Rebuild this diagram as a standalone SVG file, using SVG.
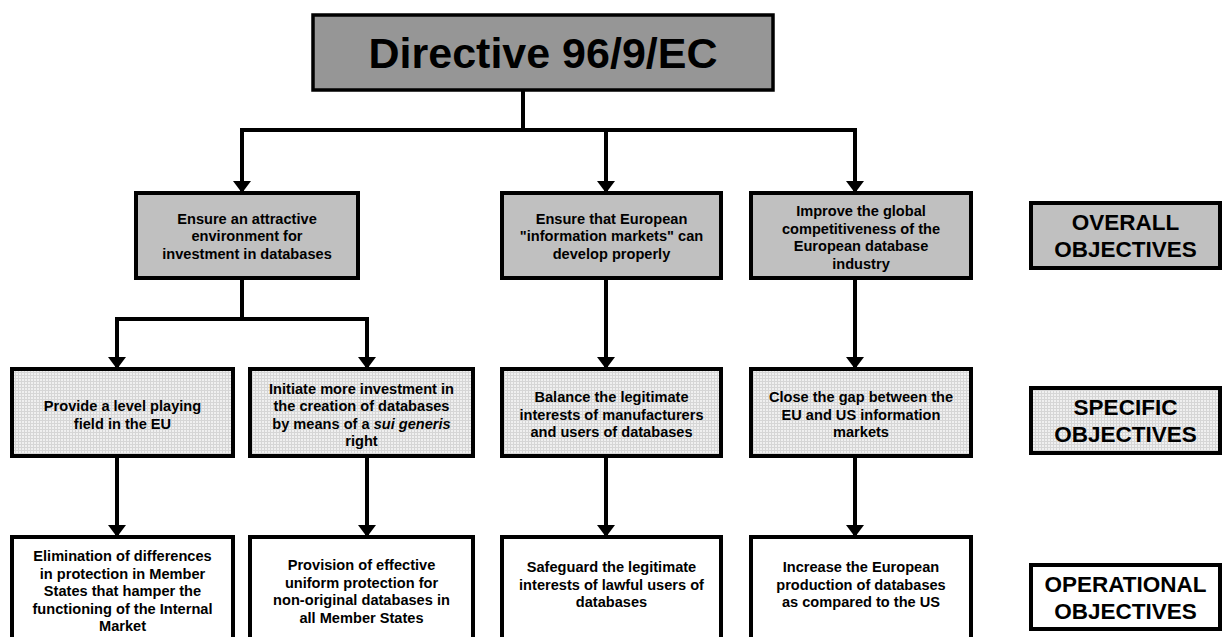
<svg xmlns="http://www.w3.org/2000/svg" width="1222" height="637" viewBox="0 0 1222 637">
<style>
.box{stroke:#000;stroke-width:4}
.top{fill:#969696;stroke:#000;stroke-width:3.5}
.ov{fill:#c0c0c0}
.sp{fill:url(#grid)}
.op{fill:#fff}
.t{font-family:"Liberation Sans",Arial,sans-serif;font-weight:bold;font-size:14.6px;text-anchor:middle;fill:#000}
.lab{font-family:"Liberation Sans",Arial,sans-serif;font-weight:bold;font-size:22.5px;text-anchor:middle;fill:#000}
.title{font-family:"Liberation Sans",Arial,sans-serif;font-weight:bold;font-size:43px;text-anchor:middle;fill:#000}
.c{fill:none;stroke:#000;stroke-width:4}
.a{marker-end:url(#arr)}
</style>
<defs>
<pattern id="grid" width="3" height="3" patternUnits="userSpaceOnUse">
<rect width="3" height="3" fill="#f0f0f0"/>
<path d="M0,0.5 H3 M0.5,0 V3" stroke="#d6d6d6" stroke-width="1"/>
</pattern>
<marker id="arr" viewBox="0 0 12 18" markerWidth="12" markerHeight="18" refX="12" refY="9" orient="auto" markerUnits="userSpaceOnUse">
<path d="M0,0 L12,9 L0,18 Z" fill="#000"/>
</marker>
</defs>
<rect width="1222" height="637" fill="#fff"/>

<g id="connectors">
<path class="c" d="M523,88 V130"/>
<path class="c" d="M242,130 H855" stroke-linecap="square"/>
<path class="c a" d="M242,130 V193"/>
<path class="c a" d="M606,130 V193"/>
<path class="c a" d="M855,130 V193"/>
<path class="c" d="M242,278 V319"/>
<path class="c" d="M117,319 H367" stroke-linecap="square"/>
<path class="c a" d="M117,319 V369"/>
<path class="c a" d="M367,319 V369"/>
<path class="c a" d="M606,278 V369"/>
<path class="c a" d="M855,278 V369"/>
<path class="c a" d="M117,456 V537"/>
<path class="c a" d="M367,456 V537"/>
<path class="c a" d="M606,456 V537"/>
<path class="c a" d="M855,456 V537"/>
</g>

<g id="directive">
<rect class="top" x="313" y="15" width="460" height="75"/>
<text class="title" x="543" y="68">Directive 96/9/EC</text>
</g>

<g id="overall-1">
<rect class="box ov" x="136" y="193" width="222" height="85"/>
<text class="t" x="247" y="223.6">Ensure an attractive</text>
<text class="t" x="247" y="241.2">environment for</text>
<text class="t" x="247" y="258.8">investment in databases</text>
</g>
<g id="overall-2">
<rect class="box ov" x="502" y="193" width="219" height="85"/>
<text class="t" x="611.5" y="223.6">Ensure that European</text>
<text class="t" x="611.5" y="241.2">"information markets" can</text>
<text class="t" x="611.5" y="258.8">develop properly</text>
</g>
<g id="overall-3">
<rect class="box ov" x="751" y="193" width="220" height="85"/>
<text class="t" x="861" y="216">Improve the global</text>
<text class="t" x="861" y="233.6">competitiveness of the</text>
<text class="t" x="861" y="251.2">European database</text>
<text class="t" x="861" y="268.8">industry</text>
</g>

<g id="specific-1">
<rect class="box sp" x="12" y="369" width="221" height="87"/>
<text class="t" x="122.5" y="411">Provide a level playing</text>
<text class="t" x="122.5" y="428.6">field in the EU</text>
</g>
<g id="specific-2">
<rect class="box sp" x="250" y="369" width="223" height="87"/>
<text class="t" x="361.5" y="393.5">Initiate more investment in</text>
<text class="t" x="361.5" y="411.1">the creation of databases</text>
<text class="t" x="361.5" y="428.7">by means of a <tspan font-style="italic">sui generis</tspan></text>
<text class="t" x="361.5" y="446.3">right</text>
</g>
<g id="specific-3">
<rect class="box sp" x="502" y="369" width="219" height="87"/>
<text class="t" x="611.5" y="402">Balance the legitimate</text>
<text class="t" x="611.5" y="419.6">interests of manufacturers</text>
<text class="t" x="611.5" y="437.2">and users of databases</text>
</g>
<g id="specific-4">
<rect class="box sp" x="751" y="369" width="220" height="87"/>
<text class="t" x="861" y="402">Close the gap between the</text>
<text class="t" x="861" y="419.6">EU and US information</text>
<text class="t" x="861" y="437.2">markets</text>
</g>

<g id="operational-1">
<rect class="box op" x="12" y="537" width="221" height="110"/>
<text class="t" x="122.5" y="561">Elimination of differences</text>
<text class="t" x="122.5" y="578.6">in protection in Member</text>
<text class="t" x="122.5" y="596.2">States that hamper the</text>
<text class="t" x="122.5" y="613.8">functioning of the Internal</text>
<text class="t" x="122.5" y="631.4">Market</text>
</g>
<g id="operational-2">
<rect class="box op" x="250" y="537" width="223" height="110"/>
<text class="t" x="361.5" y="570">Provision of effective</text>
<text class="t" x="361.5" y="587.6">uniform protection for</text>
<text class="t" x="361.5" y="605.2">non-original databases in</text>
<text class="t" x="361.5" y="622.8">all Member States</text>
</g>
<g id="operational-3">
<rect class="box op" x="502" y="537" width="219" height="110"/>
<text class="t" x="611.5" y="572">Safeguard the legitimate</text>
<text class="t" x="611.5" y="589.6">interests of lawful users of</text>
<text class="t" x="611.5" y="607.2">databases</text>
</g>
<g id="operational-4">
<rect class="box op" x="751" y="537" width="220" height="110"/>
<text class="t" x="861" y="572">Increase the European</text>
<text class="t" x="861" y="589.6">production of databases</text>
<text class="t" x="861" y="607.2">as compared to the US</text>
</g>

<g id="label-overall">
<rect class="box ov" x="1031" y="203" width="189" height="65"/>
<text class="lab" x="1125.5" y="230">OVERALL</text>
<text class="lab" x="1125.5" y="257">OBJECTIVES</text>
</g>
<g id="label-specific">
<rect class="box sp" x="1031" y="388" width="189" height="65"/>
<text class="lab" x="1125.5" y="415">SPECIFIC</text>
<text class="lab" x="1125.5" y="442">OBJECTIVES</text>
</g>
<g id="label-operational">
<rect class="box op" x="1031" y="565" width="189" height="64"/>
<text class="lab" x="1125.5" y="591.5">OPERATIONAL</text>
<text class="lab" x="1125.5" y="618.5">OBJECTIVES</text>
</g>
</svg>
